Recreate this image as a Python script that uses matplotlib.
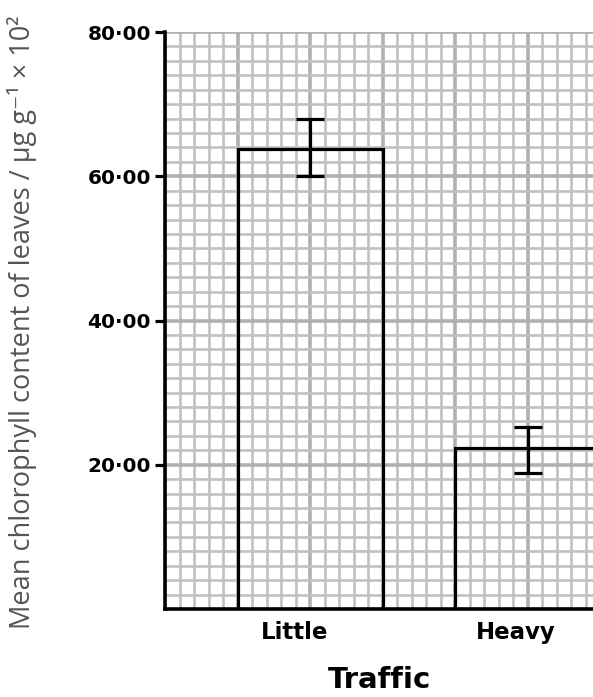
import matplotlib.pyplot as plt
import numpy as np
from matplotlib.ticker import MultipleLocator

categories = ['Little', 'Heavy']
means = [63.8, 22.3]
err_low = [60.0, 18.9]
err_high = [68.0, 25.3]
y_ticks = [20, 40, 60, 80]
y_tick_labels = ['20·00', '40·00', '60·00', '80·00']

# x in grid-cell units: each bar spans ten cells
bar_centers = [10, 25]
label_pos = [8.9, 24.2]

fig = plt.figure(figsize=(5.93, 6.97), dpi=100)
ax = fig.add_axes([165 / 593, 88 / 697, 1 - 165 / 593, 577 / 697])

means = np.array(means)
yerr = [means - np.array(err_low), np.array(err_high) - means]

ax.bar(bar_centers, means, width=10, fill=False, edgecolor='black',
       linewidth=2.3, zorder=3)
ax.errorbar(bar_centers, means, yerr=yerr, fmt='none', ecolor='black',
            elinewidth=2.3, capsize=10, capthick=2.3, zorder=4)

ax.set_xlim(0, 29.5)
ax.set_ylim(0, 80)

# graph paper
ax.xaxis.set_major_locator(MultipleLocator(5))
ax.xaxis.set_minor_locator(MultipleLocator(1))
ax.yaxis.set_minor_locator(MultipleLocator(2))
ax.grid(which='major', color='#b0b0b0', linewidth=2.6, zorder=0)
ax.grid(which='minor', color='#c0c0c0', linewidth=1.9, zorder=0)
ax.set_axisbelow(True)

ax.yaxis.set_major_locator(plt.FixedLocator(y_ticks))
ax.set_yticklabels(y_tick_labels, fontsize=14.5, fontweight='bold',
                   family='DejaVu Sans')
ax.tick_params(axis='y', which='major', length=7, width=2.3, pad=3)
ax.tick_params(axis='y', which='minor', length=0)
ax.tick_params(axis='x', which='both', length=0, labelbottom=False)

for pos, name in zip(label_pos, categories):
    ax.text(pos, -1.6, name, ha='center', va='top',
            fontsize=16.5, fontweight='bold', family='DejaVu Sans')

fig.text(380 / 593, 1 - 680 / 697, 'Traffic', ha='center', va='center',
         fontsize=21, fontweight='bold', family='DejaVu Sans')

fig.text(22 / 593, 1 - 322 / 697,
         'Mean chlorophyll content of leaves / µg g⁻¹ × 10²',
         rotation=90, ha='center', va='center', fontsize=19.5,
         color='#555555', family=['Open Sans', 'DejaVu Sans'])

for s in ['top', 'right']:
    ax.spines[s].set_visible(False)
for s in ['left', 'bottom']:
    ax.spines[s].set_linewidth(2.6)
    ax.spines[s].set_zorder(5)

fig.savefig('out.png', dpi=100)
